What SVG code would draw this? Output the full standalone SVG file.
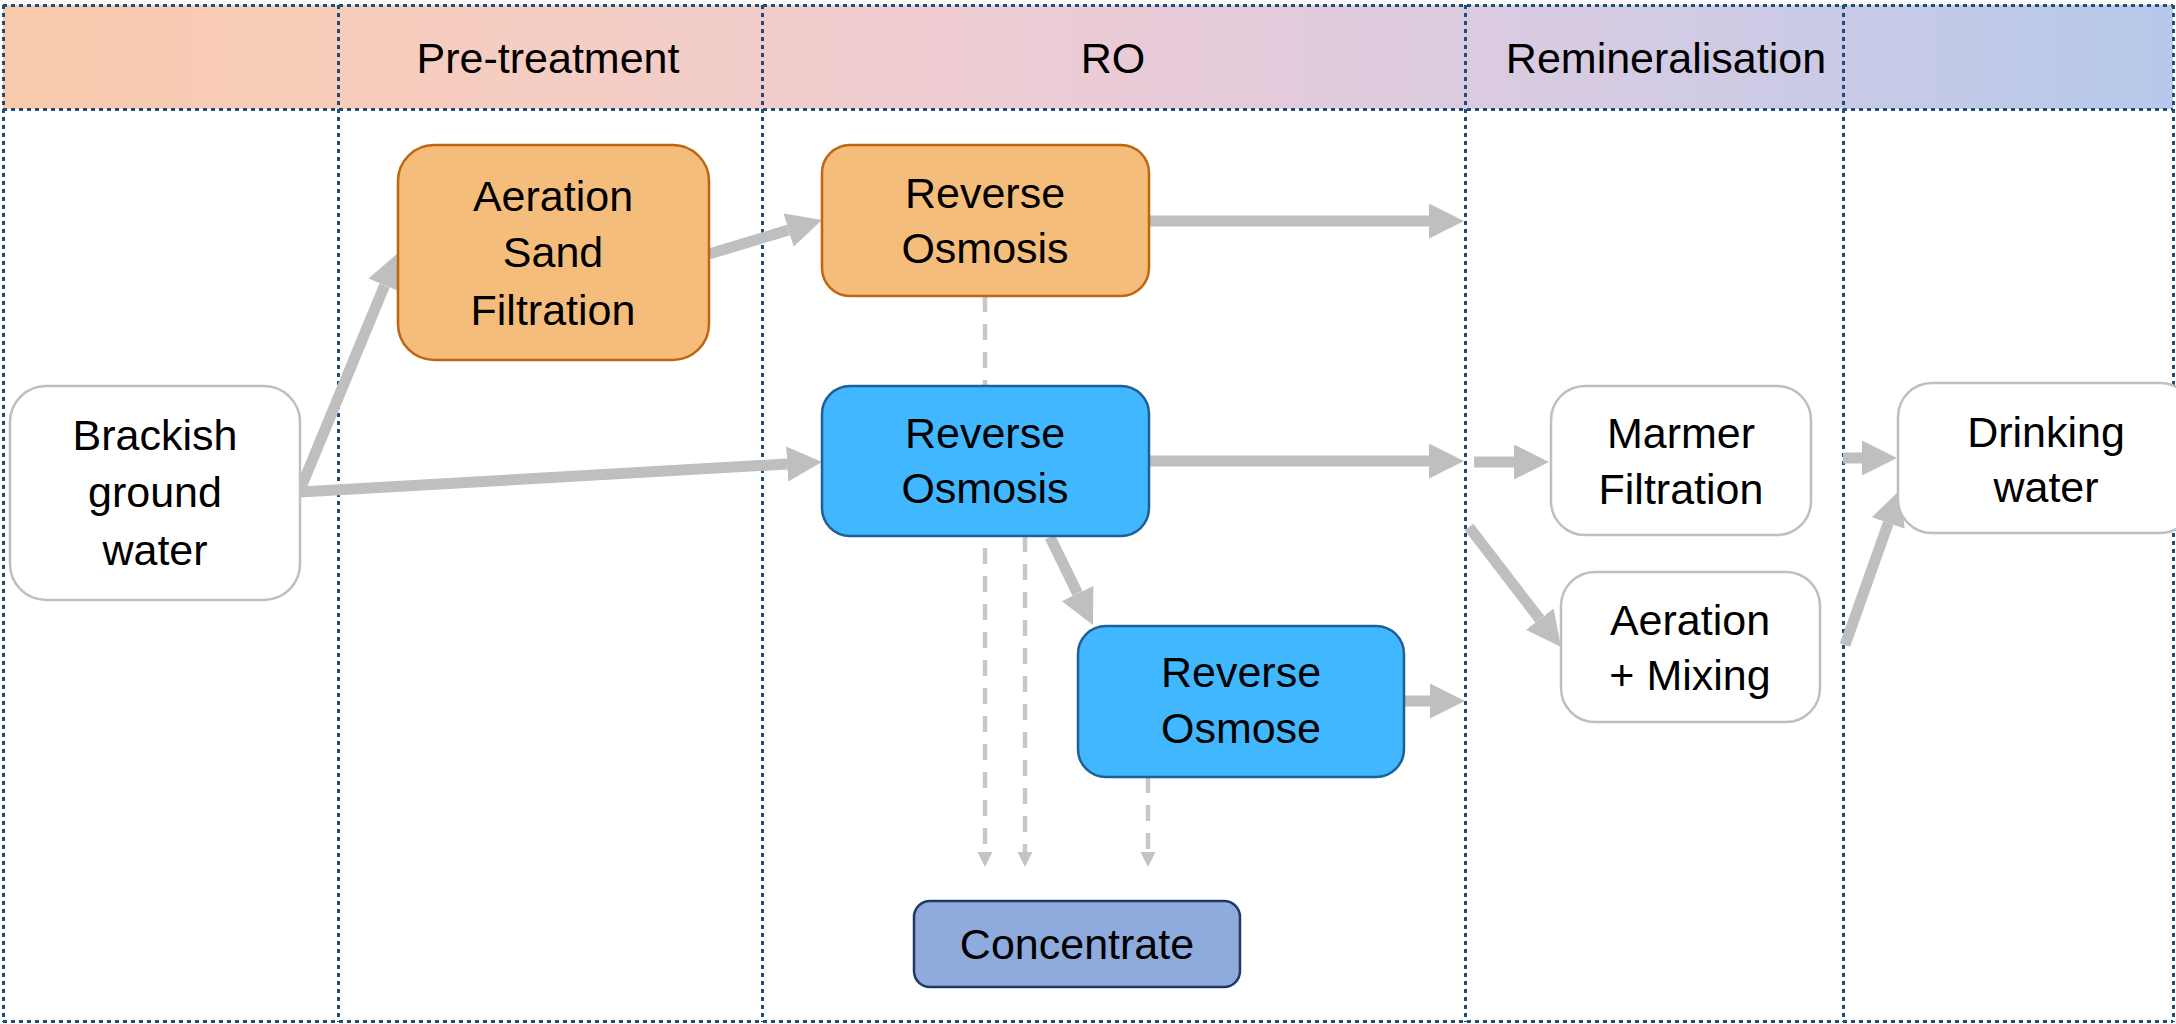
<svg xmlns="http://www.w3.org/2000/svg" width="2176" height="1024" viewBox="0 0 2176 1024">
  <defs>
    <linearGradient id="hdr" x1="0" y1="0" x2="1" y2="0">
      <stop offset="0" stop-color="#f9cbac"/>
      <stop offset="0.25" stop-color="#f5cdc3"/>
      <stop offset="0.5" stop-color="#ebcbd6"/>
      <stop offset="0.76" stop-color="#d3cbe4"/>
      <stop offset="1" stop-color="#b6c9ea"/>
    </linearGradient>
    <marker id="ah" markerUnits="userSpaceOnUse" markerWidth="36" markerHeight="36" refX="0" refY="17.5" orient="auto" viewBox="0 0 36 36">
      <path d="M0,0 L35,17.5 L0,35 Z" fill="#bfbfbf"/>
    </marker>
    <marker id="ahs" markerUnits="userSpaceOnUse" markerWidth="16" markerHeight="16" refX="0" refY="7.5" orient="auto" viewBox="0 0 16 16">
      <path d="M0,0 L15,7.5 L0,15 Z" fill="#c4c4c4"/>
    </marker>
    <style>
      .grid { stroke: #1f4e79; stroke-width: 3; stroke-dasharray: 4 4; fill: none; shape-rendering: crispEdges; }
      .flow { stroke: #bfbfbf; stroke-width: 11; fill: none; marker-end: url(#ah); }
      .conc { stroke: #c8c8c8; stroke-width: 4.5; stroke-dasharray: 16 12; fill: none; marker-end: url(#ahs); }
      .white rect { fill: #ffffff; stroke: #bfbfbf; stroke-width: 2.5; }
      .orange rect { fill: #f5bd7c; stroke: #c0660f; stroke-width: 2.5; }
      .blue rect { fill: #41b7ff; stroke: #1f5f96; stroke-width: 2.5; }
      .dark rect { fill: #8faadc; stroke: #1f3864; stroke-width: 2.5; }
      text { font-family: "Liberation Sans", Arial, sans-serif; font-size: 43px; fill: #000000; text-anchor: middle; }
    </style>
  </defs>

  <rect x="0" y="0" width="2176" height="1024" fill="#ffffff"/>

  <g id="header">
    <rect x="3" y="5" width="2170" height="104" fill="url(#hdr)"/>
    <text x="548" y="73">Pre-treatment</text>
    <text x="1113" y="73">RO</text>
    <text x="1666" y="73">Remineralisation</text>
  </g>

  <g id="grid">
    <line class="grid" x1="3" y1="5.5" x2="2173" y2="5.5"/>
    <line class="grid" x1="3" y1="109.5" x2="2173" y2="109.5"/>
    <line class="grid" x1="3" y1="1021.5" x2="2173" y2="1021.5"/>
    <line class="grid" x1="3.5" y1="5" x2="3.5" y2="1022"/>
    <line class="grid" x1="2173.5" y1="5" x2="2173.5" y2="1022"/>
    <line class="grid" x1="338.5" y1="5" x2="338.5" y2="1022"/>
    <line class="grid" x1="762.5" y1="5" x2="762.5" y2="1022"/>
    <line class="grid" x1="1465.5" y1="5" x2="1465.5" y2="1022"/>
    <line class="grid" x1="1843.5" y1="5" x2="1843.5" y2="1022"/>
  </g>

  <g id="connectors">
    <line class="conc" x1="985" y1="296" x2="985" y2="852"/>
    <line class="conc" x1="1025" y1="536" x2="1025" y2="852"/>
    <line class="conc" x1="1148" y1="777" x2="1148" y2="852"/>
    <line class="flow" x1="300" y1="490" x2="384.6" y2="285.3"/>
    <line class="flow" x1="300" y1="492" x2="787.1" y2="464"/>
    <line class="flow" x1="709" y1="254" x2="788.5" y2="230.1"/>
    <line class="flow" x1="1149" y1="221" x2="1429" y2="221"/>
    <line class="flow" x1="1149" y1="461" x2="1429" y2="461"/>
    <line class="flow" x1="1474" y1="462" x2="1514" y2="462"/>
    <line class="flow" x1="1469" y1="527" x2="1539.7" y2="619.2"/>
    <line class="flow" x1="1845" y1="645" x2="1888.3" y2="523"/>
    <line class="flow" x1="1843" y1="458" x2="1862" y2="458"/>
    <line class="flow" x1="1050" y1="537" x2="1077.6" y2="593.5"/>
    <line class="flow" x1="1405" y1="701" x2="1430" y2="701"/>
  </g>

  <g id="brackish" class="white">
    <rect x="10" y="386" width="290" height="214" rx="36"/>
    <text x="155" y="450">Brackish</text>
    <text x="155" y="507">ground</text>
    <text x="155" y="565">water</text>
  </g>

  <g id="aeration-sand" class="orange">
    <rect x="398" y="145" width="311" height="215" rx="36"/>
    <text x="553" y="211">Aeration</text>
    <text x="553" y="267">Sand</text>
    <text x="553" y="325">Filtration</text>
  </g>

  <g id="ro1" class="orange">
    <rect x="822" y="145" width="327" height="151" rx="28"/>
    <text x="985" y="208">Reverse</text>
    <text x="985" y="263">Osmosis</text>
  </g>

  <g id="ro2" class="blue">
    <rect x="822" y="386" width="327" height="150" rx="28"/>
    <text x="985" y="448">Reverse</text>
    <text x="985" y="503">Osmosis</text>
  </g>

  <g id="ro3" class="blue">
    <rect x="1078" y="626" width="326" height="151" rx="28"/>
    <text x="1241" y="687">Reverse</text>
    <text x="1241" y="743">Osmose</text>
  </g>

  <g id="concentrate" class="dark">
    <rect x="914" y="901" width="326" height="86" rx="16"/>
    <text x="1077" y="959">Concentrate</text>
  </g>

  <g id="marmer" class="white">
    <rect x="1551" y="386" width="260" height="149" rx="34"/>
    <text x="1681" y="448">Marmer</text>
    <text x="1681" y="504">Filtration</text>
  </g>

  <g id="aeration-mixing" class="white">
    <rect x="1561" y="572" width="259" height="150" rx="34"/>
    <text x="1690" y="635">Aeration</text>
    <text x="1690" y="690">+ Mixing</text>
  </g>

  <g id="drinking" class="white">
    <rect x="1898" y="383" width="296" height="150" rx="34"/>
    <text x="2046" y="447">Drinking</text>
    <text x="2046" y="502">water</text>
  </g>
</svg>
